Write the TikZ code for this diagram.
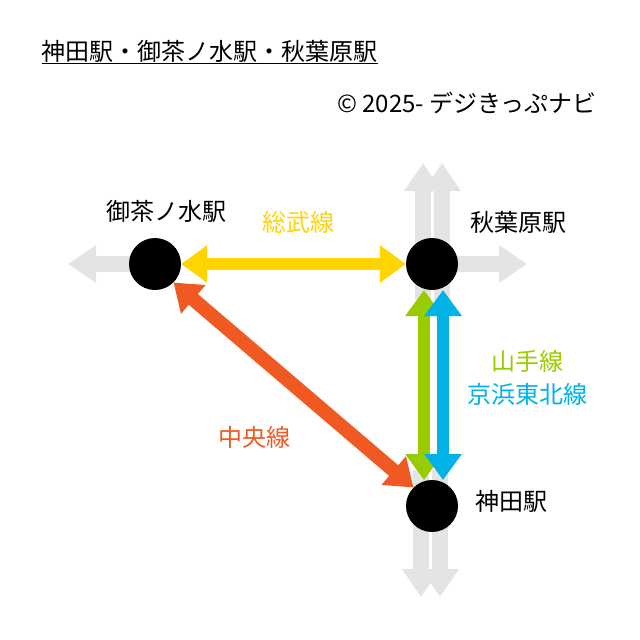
\documentclass[tikz,border=0pt]{standalone}
\usepackage{fontspec}
\setmainfont{Noto Sans CJK JP}
\usetikzlibrary{arrows.meta}
\begin{document}
\begin{tikzpicture}[x=1pt,y=-1pt,
  stn/.style={circle,fill=black,minimum size=52pt,inner sep=0pt},
  lbl/.style={font=\fontsize{24}{28}\selectfont},
  gray/.style={draw={rgb,255:red,228;green,228;blue,228},line width=16pt,-{Triangle[length=28pt,width=36pt]}},
  line/.style={line width=12pt,{Triangle[length=26pt,width=36pt]}-{Triangle[length=26pt,width=36pt]}}]
\useasboundingbox (0,0) rectangle (640,640);
\definecolor{ylw}{RGB}{255,212,0}
\definecolor{org}{RGB}{240,90,34}
\definecolor{grn}{RGB}{153,204,0}
\definecolor{blu}{RGB}{0,178,229}
\coordinate (gl) at (68,264);
\coordinate (gr) at (527,264);
\coordinate (gu1) at (423,163);
\coordinate (gu2) at (442,163);
\coordinate (gd1) at (421,597);
\coordinate (gd2) at (440,597);
\coordinate (o0) at (155,264);
\coordinate (a0) at (432,264);
\coordinate (k0) at (432,506);
\draw[gray] (o0) -- (gl);
\draw[gray] (a0) -- (gr);
\draw[gray] (423,300) -- (gu1);
\draw[gray] (442,300) -- (gu2);
\draw[gray] (421,470) -- (gd1);
\draw[gray] (440,470) -- (gd2);
\node[stn] (o) at (o0) {};
\node[stn] (a) at (a0) {};
\node[stn] (k) at (k0) {};
\coordinate (gt) at (424,290); \coordinate (gb) at (424,480);
\coordinate (bt) at (443,290); \coordinate (bb) at (443,480);
\draw[line,draw=ylw,fill=ylw] (o.east) -- (a.west);
\draw[line,line width=14pt,draw=org,fill=org] (o.south east) -- (k.north west);
\draw[line,draw=grn,fill=grn] (gt) -- (gb);
\draw[line,draw=blu,fill=blu] (bt) -- (bb);
\node[lbl,anchor=west] (t) at (38,52) {\underline{神田駅・御茶ノ水駅・秋葉原駅}};
\node[lbl,anchor=east] (c) at (600,103) {© 2025- デジきっぷナビ};
\node[lbl] (lo) at (166,211) {御茶ノ水駅};
\node[lbl] (la) at (518,222) {秋葉原駅};
\node[lbl] (lk) at (511,501) {神田駅};
\node[lbl,text=ylw] (ly) at (298,222) {総武線};
\node[lbl,text=org] (lc) at (254,437) {中央線};
\node[lbl,text=grn] (ly2) at (527,361) {山手線};
\node[lbl,text=blu] (lkt) at (527,394) {京浜東北線};
\end{tikzpicture}
\end{document}
